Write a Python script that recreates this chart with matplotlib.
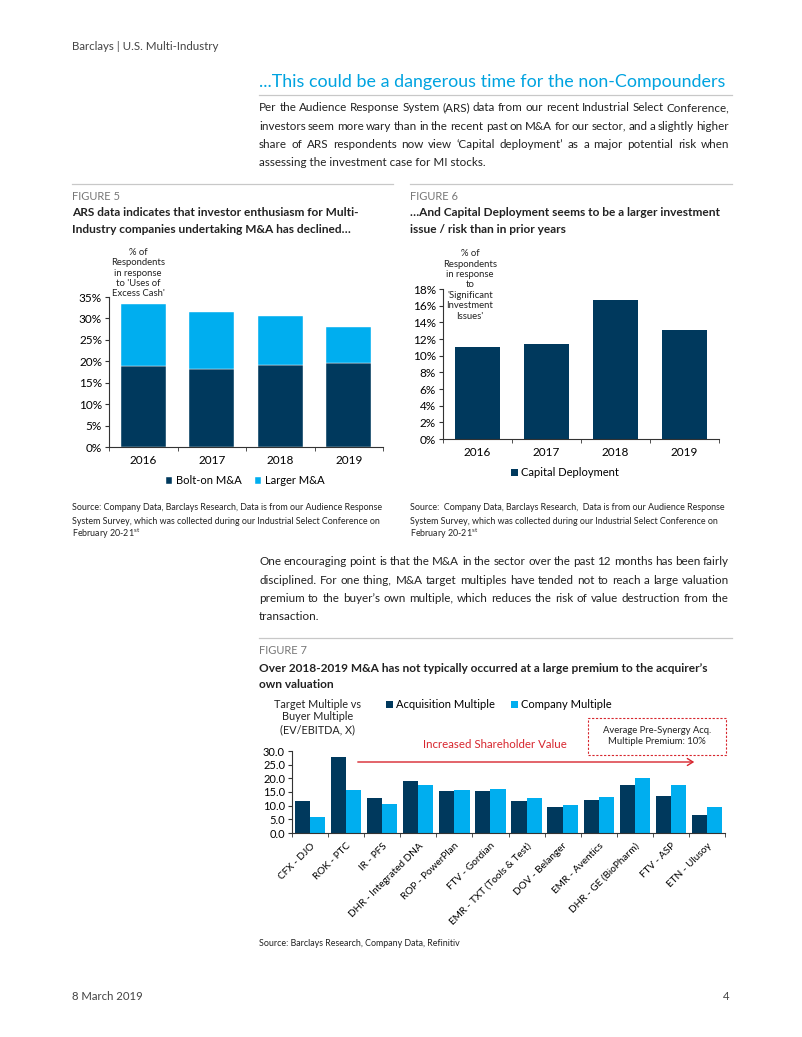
import numpy as np
import matplotlib
matplotlib.use("Agg")
import matplotlib.pyplot as plt
from matplotlib.ticker import FuncFormatter, FixedLocator
from matplotlib.patches import Rectangle, FancyArrowPatch

# ---- data -------------------------------------------------------------
years = ["2016", "2017", "2018", "2019"]
bolt_on = [18.8, 18.2, 19.2, 19.5]
larger = [14.6, 13.3, 11.3, 8.6]
capital_deployment = [11.0, 11.4, 16.7, 13.1]

deals = ["CFX - DJO", "ROK - PTC", "IR - PFS", "DHR - Integrated DNA", "ROP - PowerPlan",
         "FTV - Gordian", "EMR - TXT (Tools & Test)", "DOV - Belanger", "EMR - Aventics",
         "DHR - GE (BioPharm)", "FTV - ASP", "ETN - Ulusoy"]
acq_multiple = [11.7, 27.9, 12.9, 19.0, 15.3, 15.3, 11.8, 9.4, 11.9, 17.4, 13.5, 6.6]
company_multiple = [6.0, 15.6, 10.7, 17.4, 15.6, 16.0, 12.9, 10.2, 13.2, 20.3, 17.6, 9.5]

DARK = "#00395D"
LIGHT = "#00AEEF"
RED = "#D7262E"
W, H = 802, 1037

plt.rcParams["font.family"] = ["Lato", "DejaVu Sans"]

fig = plt.figure(figsize=(W / 100, H / 100), dpi=100)
fig.patch.set_facecolor("white")


def px(x, y):
    return x / W, 1 - y / H


def txt(x, y, s, **kw):
    kw.setdefault("va", "center")
    kw.setdefault("color", "#222222")
    return fig.text(*px(x, y), s, **kw)


def rule(x0, x1, y, color="#c8c8c8", lw=0.9):
    fig.add_artist(plt.Line2D([x0 / W, x1 / W], [1 - y / H, 1 - y / H], color=color, lw=lw))


renderer = fig.canvas.get_renderer()


def justify(x0, x1, y, line, size):
    # spread the words of a line over x0..x1 (y is the baseline)
    words = line.split(" ")
    objs = [txt(x0, y, w, fontsize=size, ha="left", va="baseline") for w in words]
    widths = [o.get_window_extent(renderer).width for o in objs]
    gap = (x1 - x0 - sum(widths)) / max(len(words) - 1, 1)
    x = x0
    for o, w in zip(objs, widths):
        o.set_position(px(x, y))
        x += w + gap


def axes_px(left, top, right, bottom):
    return fig.add_axes([left / W, 1 - bottom / H, (right - left) / W, (bottom - top) / H])


def style_axes(ax, n):
    for s in ["top", "right"]:
        ax.spines[s].set_visible(False)
    for s in ["left", "bottom"]:
        ax.spines[s].set_color("#333333")
        ax.spines[s].set_linewidth(0.8)
    ax.set_xlim(-0.5, n - 0.5)
    ax.set_xticks(range(n))
    ax.xaxis.set_minor_locator(FixedLocator(np.arange(-0.5, n, 1.0)))
    ax.tick_params(axis="x", which="major", length=0, pad=6)
    ax.tick_params(axis="x", which="minor", length=3, color="#333333")
    ax.tick_params(axis="y", length=3, color="#333333", pad=2)


# ---- page text --------------------------------------------------------
txt(72, 47, "Barclays | U.S. Multi-Industry", fontsize=8.3, color="#444444")
txt(259, 82, "...This could be a dangerous time for the non-Compounders", fontsize=12.9, color="#00A3E0")
rule(259, 732, 95)

BODY = 8.4
para1 = ["Per the Audience Response System (ARS) data from our recent Industrial Select Conference,",
         "investors seem more wary than in the recent past on M&A for our sector, and a slightly higher",
         "share of ARS respondents now view \u2018Capital deployment\u2019 as a major potential risk when",
         "assessing the investment case for MI stocks."]
for i, line in enumerate(para1[:3]):
    justify(259, 729, 111 + i * 18.5, line, BODY)
txt(259, 111 + 3 * 18.5, para1[3], fontsize=BODY, ha="left", va="baseline")

rule(72, 393, 184)
rule(410, 732, 184)

# ---- figure 5 ---------------------------------------------------------
txt(72, 197, "FIGURE 5", fontsize=8, color="#777777")
txt(72, 213, "ARS data indicates that investor enthusiasm for Multi-", fontsize=8.6, weight="bold")
txt(72, 230, "Industry companies undertaking M&A has declined\u2026", fontsize=8.6, weight="bold")

ax5 = axes_px(109, 297, 383, 447)
x = np.arange(len(years))
ax5.bar(x, bolt_on, 0.66, color=DARK, label="Bolt-on M&A", edgecolor="white", linewidth=0.3)
ax5.bar(x, larger, 0.66, bottom=bolt_on, color=LIGHT, label="Larger M&A", edgecolor="white", linewidth=0.3)
style_axes(ax5, len(years))
ax5.set_ylim(0, 35)
ax5.set_yticks(range(0, 36, 5))
ax5.yaxis.set_major_formatter(FuncFormatter(lambda v, p: f"{v:.0f}%"))
ax5.set_xticklabels(years)
ax5.tick_params(labelsize=8.5)
ax5.legend(ncol=2, frameon=False, fontsize=8, handlelength=0.6, handleheight=0.6, handletextpad=0.3,
           columnspacing=1.2, loc="center", bbox_to_anchor=px(245, 481), bbox_transform=fig.transFigure)
txt(138, 273, "% of\nRespondents\nin response\nto 'Uses of\nExcess Cash'", fontsize=6.8,
    ha="center", linespacing=1.2)

src = ["System Survey, which was collected during our Industrial Select Conference on"]
txt(72, 508, "Source: Company Data, Barclays Research, Data is from our Audience Response", fontsize=6.4)
txt(72, 521, src[0], fontsize=6.4)
txt(72, 534, "February 20-21$^{\\mathregular{st}}$", fontsize=6.4)

# ---- figure 6 ---------------------------------------------------------
txt(410, 197, "FIGURE 6", fontsize=8, color="#777777")
txt(410, 213, "\u2026And Capital Deployment seems to be a larger investment", fontsize=8.6, weight="bold")
txt(410, 230, "issue / risk than in prior years", fontsize=8.6, weight="bold")

ax6 = axes_px(443, 289, 719, 439)
ax6.bar(x, capital_deployment, 0.64, color=DARK, label="Capital Deployment")
style_axes(ax6, len(years))
ax6.set_ylim(0, 18)
ax6.set_yticks(range(0, 19, 2))
ax6.yaxis.set_major_formatter(FuncFormatter(lambda v, p: f"{v:.0f}%"))
ax6.set_xticklabels(years)
ax6.tick_params(labelsize=8.5)
ax6.legend(frameon=False, fontsize=8, handlelength=0.6, handleheight=0.6, handletextpad=0.3,
           loc="center", bbox_to_anchor=px(565, 473), bbox_transform=fig.transFigure)
txt(470, 285, "% of\nRespondents\nin response\nto\n'Significant\nInvestment\nIssues'", fontsize=6.8,
    ha="center", linespacing=1.2)

txt(410, 508, "Source:  Company Data, Barclays Research,  Data is from our Audience Response", fontsize=6.4)
txt(410, 521, src[0], fontsize=6.4)
txt(410, 534, "February 20-21$^{\\mathregular{st}}$", fontsize=6.4)

# ---- second paragraph -------------------------------------------------
para2 = ["One encouraging point is that the M&A in the sector over the past 12 months has been fairly",
         "disciplined. For one thing, M&A target multiples have tended not to reach a large valuation",
         "premium to the buyer\u2019s own multiple, which reduces the risk of value destruction from the",
         "transaction."]
for i, line in enumerate(para2[:3]):
    justify(259, 729, 565 + i * 18.5, line, BODY)
txt(259, 565 + 3 * 18.5, para2[3], fontsize=BODY, ha="left", va="baseline")

rule(259, 732, 638)

# ---- figure 7 ---------------------------------------------------------
txt(259, 651, "FIGURE 7", fontsize=8, color="#777777")
txt(259, 668, "Over 2018-2019 M&A has not typically occurred at a large premium to the acquirer\u2019s",
    fontsize=8.6, weight="bold")
txt(259, 685, "own valuation", fontsize=8.6, weight="bold")

ax7 = axes_px(292, 751, 725, 833)
xd = np.arange(len(deals))
ax7.bar(xd - 0.21, acq_multiple, 0.42, color=DARK, label="Acquisition Multiple")
ax7.bar(xd + 0.21, company_multiple, 0.42, color=LIGHT, label="Company Multiple")
style_axes(ax7, len(deals))
ax7.set_ylim(0, 30)
ax7.set_yticks(range(0, 31, 5))
ax7.yaxis.set_major_formatter(FuncFormatter(lambda v, p: f"{v:.1f}"))
ax7.set_xticklabels(deals, rotation=45, ha="right", rotation_mode="anchor", fontsize=7.2)
ax7.tick_params(axis="y", labelsize=8)
ax7.tick_params(axis="x", pad=6)
ax7.legend(ncol=2, frameon=False, fontsize=8, handlelength=0.6, handleheight=0.6, handletextpad=0.3,
           columnspacing=1.5, loc="center", bbox_to_anchor=px(499, 705), bbox_transform=fig.transFigure)
txt(318, 717, "Target Multiple vs\nBuyer Multiple\n(EV/EBITDA, X)", fontsize=7.8, ha="center",
    linespacing=1.15)

txt(495, 744, "Increased Shareholder Value", fontsize=8.3, ha="center", color=RED)
fig.add_artist(FancyArrowPatch(px(355, 762), px(697, 762), arrowstyle="->,head_length=4,head_width=2.5",
                               color=RED, lw=1.0, transform=fig.transFigure))
fig.add_artist(Rectangle(px(588, 755), 138 / W, 37 / H, fill=False, ec=RED, lw=0.8, ls=(0, (2, 1.5)),
                         transform=fig.transFigure))
txt(657, 736, "Average Pre-Synergy Acq.\nMultiple Premium: 10%", fontsize=6.8, ha="center",
    linespacing=1.3)

txt(259, 943, "Source: Barclays Research, Company Data, Refinitiv", fontsize=6.4)

# ---- footer -----------------------------------------------------------
txt(72, 996, "8 March 2019", fontsize=8.2, color="#444444")
txt(729, 996, "4", fontsize=8.2, color="#444444", ha="right")

fig.savefig("out.png", dpi=100, facecolor="white")
